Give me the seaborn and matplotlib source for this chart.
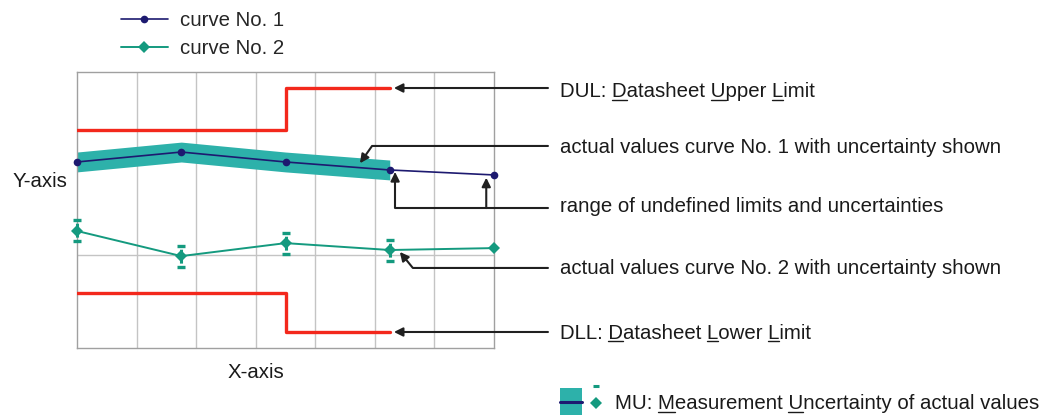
import numpy as np
import matplotlib
matplotlib.use("Agg")
import matplotlib.pyplot as plt
import seaborn as sns
from matplotlib.patches import Rectangle
from matplotlib.lines import Line2D

# ---- values (y in arbitrary 0..100 units) ----
x_pts = [0, 1.75, 3.5, 5.25, 7]
curve1 = [67.4, 71.0, 67.4, 64.5, 62.7]
curve2 = [42.4, 33.3, 38.0, 35.5, 36.2]
curve1_mu = 3.6                      # half width of band, only up to x=5.25
curve2_mu = [3.8, 3.8, 3.8, 3.8]     # error of first four points of curve 2
dul_x = [0, 3.5, 5.25]
dul_y = [79.0, 94.2, 94.2]
dll_x = [0, 3.5, 5.25]
dll_y = [19.9, 5.8, 5.8]
grid_x = [1, 2, 3, 4, 5, 6]
grid_y = [33.7]

notes = ["DUL: Datasheet Upper Limit",
         "actual values curve No. 1 with uncertainty shown",
         "range of undefined limits and uncertainties",
         "actual values curve No. 2 with uncertainty shown",
         "DLL: Datasheet Lower Limit"]
note_under = [[5, 15, 21], [], [], [], [5, 15, 21]]
note_base = [90.9, 70.7, 49.3, 26.8, 3.3]
mu_text = "MU: Measurement Uncertainty of actual values"
mu_under = [4, 16]

navy = "#1d1a70"
teal = "#2db1aa"
green = "#149a7f"
red = "#f3281c"
ink = "#1a1a1a"
FS = 14.7

sns.set_theme(style="white")
plt.rcParams['font.family'] = ['Liberation Sans', 'DejaVu Sans']
plt.rcParams['lines.scale_dashes'] = False

W, H = 1045, 415
fig = plt.figure(figsize=(W / 100, H / 100), dpi=100)
ax = fig.add_axes([77 / W, 67 / H, 417 / W, 276 / H])
ax.set_xlim(0, 7)
ax.set_ylim(0, 100)

# grid + frame
ax.set_xticks(grid_x)
ax.set_yticks(grid_y)
ax.set_xticklabels([])
ax.set_yticklabels([])
ax.tick_params(length=0)
ax.grid(True, color="#c4c4c4", lw=1)
for s in ax.spines.values():
    s.set_color("#a0a0a0")
    s.set_linewidth(1)

# limits
ax.step(dul_x, dul_y, where="post", color=red, lw=2.4, zorder=3)
ax.step(dll_x, dll_y, where="post", color=red, lw=2.4, zorder=3)

# uncertainty band of curve 1
bx = np.array(x_pts[:4])
by = np.array(curve1[:4])
ax.fill_between(bx, by - curve1_mu, by + curve1_mu, color=teal, lw=0, zorder=2)

# curves
sns.lineplot(x=x_pts, y=curve1, ax=ax, color=navy, lw=1.2, marker="o",
             markersize=5.5, markeredgewidth=0, label="curve No. 1", zorder=4,
             clip_on=False)
sns.lineplot(x=x_pts, y=curve2, ax=ax, color=green, lw=1.4, marker="D",
             markersize=6, markeredgewidth=0, label="curve No. 2", zorder=4,
             clip_on=False)

# error bars of curve 2: caps + short piece through the marker
eb = ax.errorbar(x_pts[:4], curve2[:4], yerr=curve2_mu, fmt="none", ecolor=green,
                 elinewidth=2.2, capsize=2.6, capthick=2.4, zorder=4)
eb[2][0].set_linestyle((12.5, (10.0, 5.3)))
eb[2][0].set_clip_on(False)
for c in eb[1]:
    c.set_clip_on(False)

# legend
ax.legend(loc="upper left", bbox_to_anchor=(121 / W, 1 - 11 / H),
          bbox_transform=fig.transFigure, frameon=False, fontsize=FS,
          handlelength=2.3, handletextpad=0.6, labelspacing=0.45,
          borderpad=0, borderaxespad=0)

ax.set_ylabel("Y-axis", rotation=0, ha="right", va="center", fontsize=FS, color=ink)
ax.yaxis.set_label_coords(-0.022, 0.605)
ax.set_xlabel("X-axis", fontsize=FS, color=ink, va="center")
ax.xaxis.set_label_coords(0.43, -0.09)

# annotation arrows
line_x = 7.906
ap = dict(arrowstyle="-|>", color="#202020", lw=1.5, mutation_scale=13,
          shrinkA=0, shrinkB=3)


def arrow(tip, y_line, conn="arc3", x_from=line_x, **kw):
    props = dict(ap)
    props.update(kw)
    props["connectionstyle"] = conn
    ax.annotate("", xy=tip, xytext=(x_from, y_line), arrowprops=props,
                annotation_clip=False)


arrow((dul_x[-1], dul_y[-1]), dul_y[-1])
tip1 = (4.75, np.interp(4.75, x_pts, curve1) + curve1_mu * 0.45)
arrow(tip1, 73.2, "angle,angleA=0,angleB=55,rad=0", shrinkB=0)
arrow((x_pts[3] + 0.09, curve1[3]), 50.7, "angle,angleA=0,angleB=90,rad=0", shrinkB=1.5)
arrow((x_pts[4] - 0.13, curve1[4]), 50.7, x_from=x_pts[4] - 0.13, shrinkB=2)
arrow((x_pts[3] + 0.17, curve2[3] - 0.7), 29.0, "angle,angleA=0,angleB=-51,rad=0", shrinkB=0)
arrow((dll_x[-1], dll_y[-1]), dll_y[-1])

texts = []
for txt, yb, und in zip(notes, note_base, note_under):
    t = ax.text(8.108, yb, txt, fontsize=FS, color=ink, ha="left", va="baseline",
                clip_on=False)
    texts.append((t, und))
mu = fig.text(615 / W, 1 - 409 / H, mu_text, fontsize=FS, color=ink,
              ha="left", va="baseline")
texts.append((mu, mu_under))

# MU key
fig.add_artist(Rectangle((560 / W, 0), 22 / W, 27 / H, transform=fig.transFigure,
                         color=teal, lw=0))
fig.add_artist(Line2D([560 / W, 582 / W], [13 / H, 13 / H], color=navy, lw=2.2,
                      transform=fig.transFigure))
fig.add_artist(Line2D([596 / W], [12 / H], marker="D", markersize=6, color=green,
                      markeredgewidth=0, transform=fig.transFigure))
fig.add_artist(Line2D([596 / W], [29 / H], marker="_", markersize=4.5, color=green,
                      markeredgewidth=2.2, transform=fig.transFigure))

# underlines
fig.canvas.draw()
r = fig.canvas.get_renderer()
probe = fig.text(0, 0, "", fontsize=FS)
inv = fig.transFigure.inverted()
for t, und in texts:
    s = t.get_text()
    x0, y0 = t.get_transform().transform(t.get_position())
    for i in und:
        probe.set_text(s[:i + 1])
        wf = probe.get_window_extent(r).width
        probe.set_text(s[i])
        wc = probe.get_window_extent(r).width
        a = inv.transform((x0 + wf - wc, y0 - 2.5))
        b = inv.transform((x0 + wf, y0 - 2.5))
        fig.add_artist(Line2D([a[0], b[0]], [a[1], b[1]], color=ink, lw=1,
                              transform=fig.transFigure))
probe.remove()

fig.savefig("out.png", dpi=100)
